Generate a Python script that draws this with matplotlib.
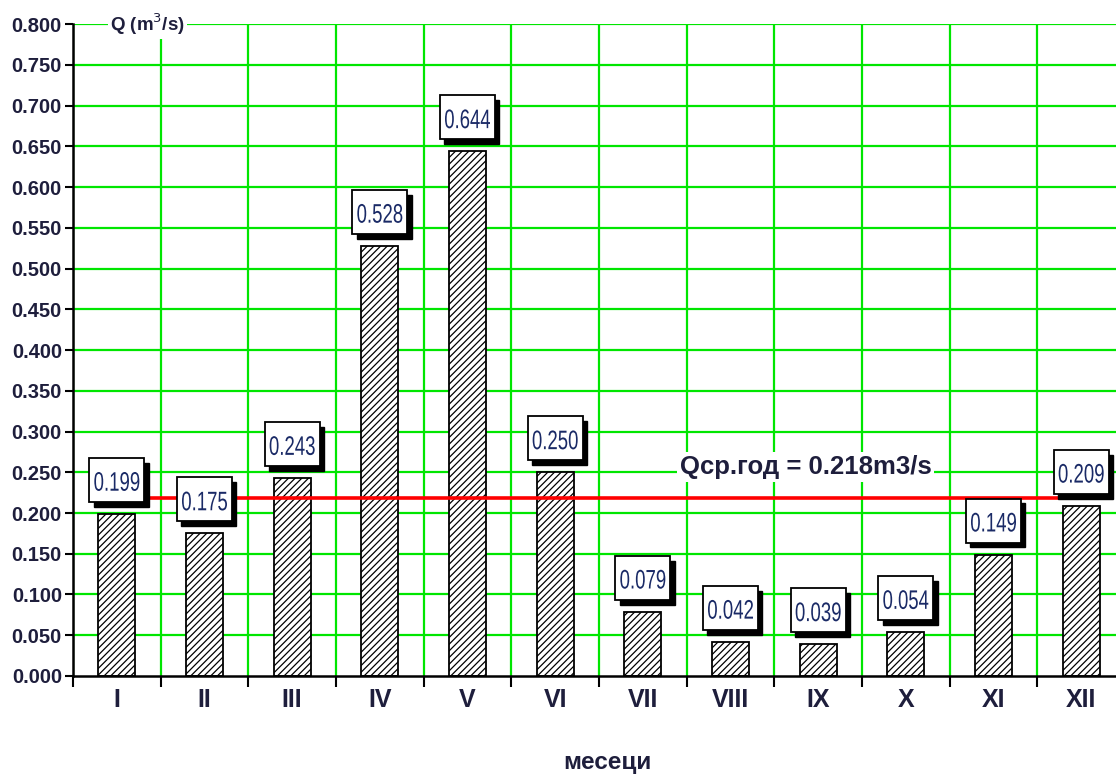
import numpy as np
import matplotlib.pyplot as plt
import matplotlib.transforms as mtransforms
from matplotlib.patches import Rectangle, PathPatch
from matplotlib.textpath import TextPath
from matplotlib.font_manager import FontProperties

# Podaci: srednji mesecni protoci
meseci = ['I', 'II', 'III', 'IV', 'V', 'VI', 'VII', 'VIII', 'IX', 'X', 'XI', 'XII']
Q = [0.199, 0.175, 0.243, 0.528, 0.644, 0.250, 0.079, 0.042, 0.039, 0.054, 0.149, 0.209]
Q_sr = 0.218

plt.rcParams['font.family'] = ['Liberation Sans', 'DejaVu Sans']
plt.rcParams['hatch.linewidth'] = 0.9

fig = plt.figure(figsize=(11.16, 7.76), dpi=100)
ax = fig.add_axes([73 / 1116, 0.1289, 1052 / 1116, 0.840])

x = np.arange(len(meseci))
green = '#00e600'
txt = '#1e1e3c'

# mreza
for xb in np.arange(-0.5, len(meseci) + 0.5, 1.0):
    ax.axvline(xb, color=green, lw=1.6, zorder=0)
for yv in np.arange(0.05, 0.801, 0.05):
    ax.axhline(yv, color=green, lw=1.6, zorder=0)

# stubici
ax.bar(x, Q, width=0.42, color='white', edgecolor='black', hatch='/////',
       linewidth=1.3, zorder=2)

# prosecni protok
ax.plot([x[0], x[-1]], [Q_sr, Q_sr], color='#ff0000', lw=2.6, zorder=3)
ax.text(6.42, 0.256, 'Qcp.год = 0.218m3/s', ha='left', va='center', fontsize=18.5,
        fontweight='bold', color=txt, zorder=4,
        bbox=dict(boxstyle='square,pad=0.12', fc='white', ec='none'))

# natpisi sa vrednostima (uzak font - tekst kao putanja)
fp = FontProperties(family='Liberation Sans')
bw, bh, gap = 0.63, 0.054, 0.0147
for xi, v in zip(x, Q):
    y0 = v + gap
    ax.add_patch(Rectangle((xi - bw / 2 + 0.05, y0 - 0.006), bw, bh,
                           fc='black', ec='black', zorder=5))
    ax.add_patch(Rectangle((xi - bw / 2, y0), bw, bh,
                           fc='white', ec='black', lw=1.3, zorder=6))
    tp = TextPath((0, 0), f'{v:.3f}', size=1, prop=fp)
    ext = tp.get_extents()
    cx, cy = (ext.x0 + ext.x1) / 2, (ext.y0 + ext.y1) / 2
    tr = (mtransforms.Affine2D().translate(-cx, -cy)
          .scale(45 / ext.width, 19 / ext.height)
          + mtransforms.ScaledTranslation(xi, y0 + bh / 2 - 0.002, ax.transData))
    ax.add_patch(PathPatch(tp, transform=tr, fc='#1a2a66', ec='none', zorder=7))

ax.set_xlim(-0.5, len(meseci) - 0.5)
ax.set_ylim(0, 0.8)
ax.set_yticks(np.arange(0, 0.801, 0.05))
ax.set_yticklabels([f'{t:.3f}' for t in np.arange(0, 0.801, 0.05)],
                   fontsize=14.5, fontweight='bold', color=txt)
ax.set_xticks(x)
ax.set_xticklabels(meseci, fontsize=18, fontweight='bold', color=txt)
ax.set_xticks(np.arange(-0.5, len(meseci), 1.0), minor=True)
ax.tick_params(axis='x', which='major', length=0, pad=9)
ax.tick_params(axis='x', which='minor', length=8, width=1.5, direction='out')
ax.tick_params(axis='y', length=6, width=1.5, pad=2)

for s in ['top', 'right']:
    ax.spines[s].set_visible(False)
ax.spines['left'].set_linewidth(1.8)
ax.spines['bottom'].set_linewidth(1.8)

ax.text(0.35, 0.8, 'Q (m$^3$/s)', ha='center', va='center', fontsize=13.5,
        fontweight='bold', color=txt, zorder=4,
        bbox=dict(boxstyle='square,pad=0.12', fc='white', ec='none'))

fig.text(607 / 1116, 1 - 762 / 776, 'месеци', ha='center', va='center',
         fontsize=17.5, fontweight='bold', color=txt)

fig.savefig('out.png', dpi=100)
